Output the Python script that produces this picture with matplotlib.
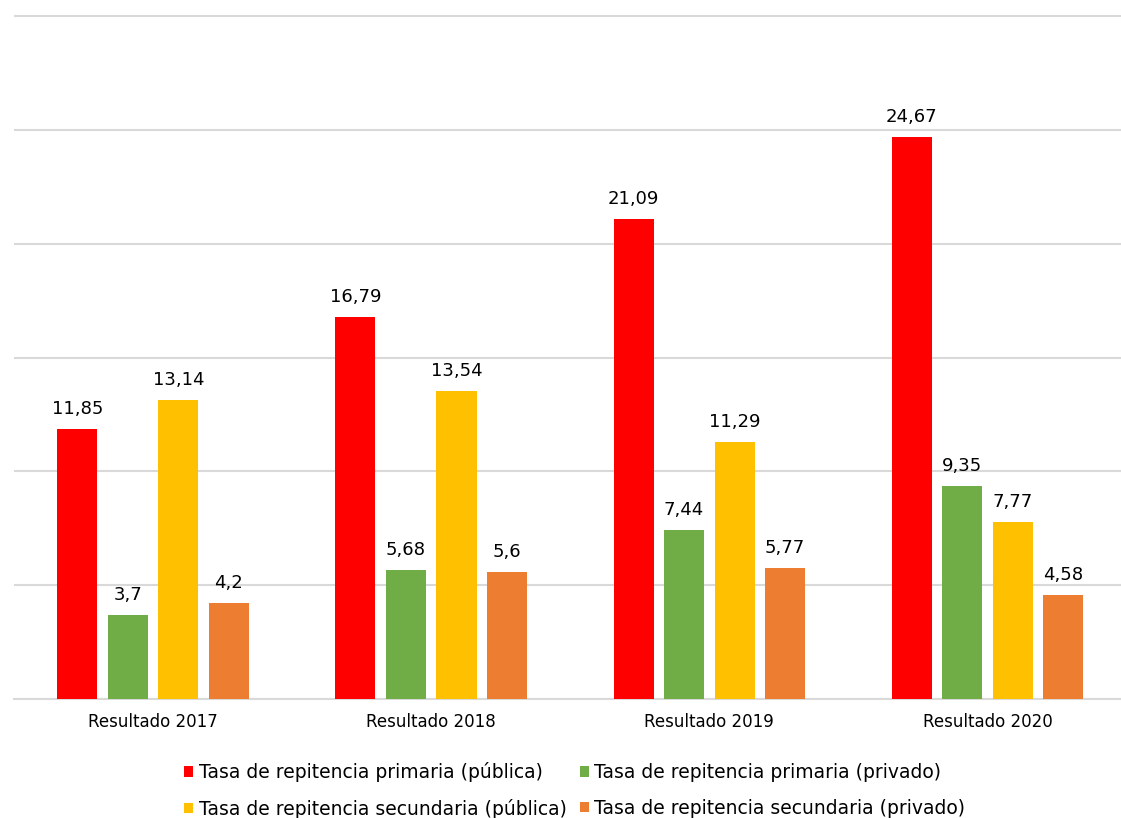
import matplotlib.pyplot as plt
import numpy as np

grupos = ['Resultado 2017', 'Resultado 2018', 'Resultado 2019', 'Resultado 2020']
series = [
    'Tasa de repitencia primaria (pública)',
    'Tasa de repitencia primaria (privado)',
    'Tasa de repitencia secundaria (pública)',
    'Tasa de repitencia secundaria (privado)',
]
primaria_publica = [11.85, 16.79, 21.09, 24.67]
primaria_privado = [3.7, 5.68, 7.44, 9.35]
secundaria_publica = [13.14, 13.54, 11.29, 7.77]
secundaria_privado = [4.2, 5.6, 5.77, 4.58]
cores = ['#FF0000', '#70AD47', '#FFC000', '#ED7D31']

valores = [primaria_publica, primaria_privado, secundaria_publica, secundaria_privado]

plt.rcParams['font.family'] = ['DejaVu Sans']

fig = plt.figure(figsize=(11.21, 8.18), dpi=100)
# topo um pouco acima de 30 para a grade de cima nao ser cortada
y_max = 30.1
ax = fig.add_axes([14 / 1121, 119 / 818, 1107 / 1121, 683 * y_max / 30 / 818])

x = np.arange(len(grupos))
largura = 0.144
passo = 0.1817
barras_leg = []
for i, (nome, vals, cor) in enumerate(zip(series, valores, cores)):
    desloc = (i - 1.5) * passo
    barras = ax.bar(x + desloc, vals, largura, color=cor, label=nome, zorder=3)
    barras_leg.append(barras)
    for b, v in zip(barras, vals):
        ax.annotate(str(v).replace('.', ','), (b.get_x() + b.get_width() / 2, v),
                    xytext=(0, 20), textcoords='offset pixels',
                    ha='center', va='center', fontsize=13, color='black')

ax.set_xlim(-0.5, 3.48)
ax.set_ylim(0, y_max)
ax.set_yticks(np.arange(0, 31, 5))
ax.yaxis.grid(True, color='#D9D9D9', linewidth=1.5, zorder=0)
ax.tick_params(axis='y', left=False, labelleft=False)
ax.set_xticks(x)
ax.set_xticklabels(grupos, fontsize=12)
ax.tick_params(axis='x', length=0, pad=10)
for lado in ['top', 'right', 'left']:
    ax.spines[lado].set_visible(False)
ax.spines['bottom'].set_color('#D9D9D9')
ax.spines['bottom'].set_linewidth(1.5)

# ordem por linhas (matplotlib preenche por colunas)
ordem = [0, 2, 1, 3]
fig.legend([barras_leg[k] for k in ordem], [series[k] for k in ordem],
           loc='upper left', bbox_to_anchor=(184 / 1121, 1 - 762 / 818), ncol=2,
           frameon=False, fontsize=13.5, handlelength=0.48, handleheight=0.48,
           handletextpad=0.3, columnspacing=0.7, labelspacing=0.9,
           borderaxespad=0, borderpad=0)

fig.savefig('out.png', dpi=100)
